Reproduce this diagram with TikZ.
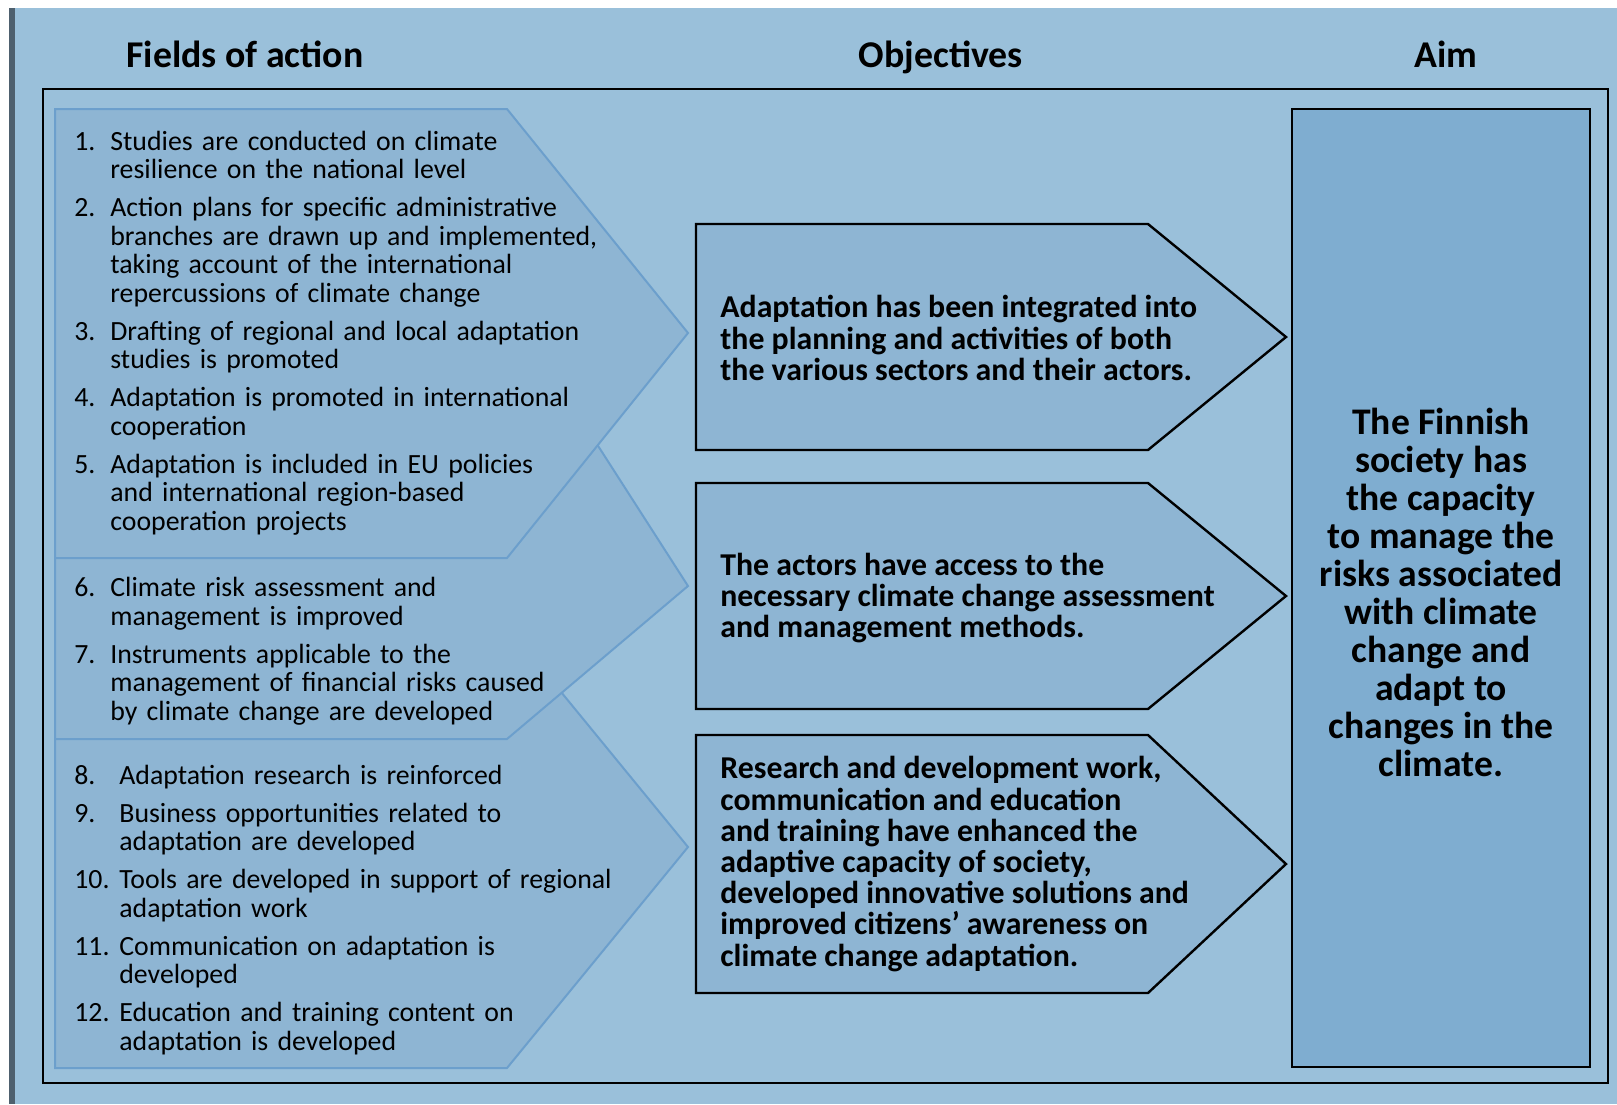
\documentclass[tikz,border=0pt]{standalone}
\usepackage{fontspec}
\setmainfont{Carlito}

\definecolor{bgblue}{RGB}{154,192,218}
\definecolor{chevfill}{RGB}{142,181,211}
\definecolor{chevedge}{RGB}{108,159,204}
\definecolor{aimfill}{RGB}{127,173,208}
\definecolor{barcol}{RGB}{78,96,110}

% numbered line with hanging indent: [indent]{number}{text}
\newcommand{\fitem}[3][18pt]{\hangindent=#1\hangafter=1\makebox[#1][l]{#2}#3\par}

\begin{document}
\begin{tikzpicture}[
    x=0.5pt, y=-0.5pt,                      % 1 unit = 1 px, y runs downwards
    fieldbox/.style={fill=chevfill, draw=chevedge, line width=1pt, line join=miter},
    objbox/.style={fill=chevfill, draw=black, line width=1.2pt, line join=miter},
    aimbox/.style={fill=aimfill, draw=black, line width=1.1pt},
    head/.style={anchor=base, font=\fontsize{18.9}{19}\selectfont\bfseries},
    fieldtxt/.style={anchor=west, inner sep=0pt, text width=300pt,
      font=\fontsize{13.9}{14.25}\selectfont},
    objtxt/.style={anchor=west, inner sep=0pt, align=left,
      font=\fontsize{15.9}{15.6}\selectfont\bfseries},
    aimtxt/.style={align=center, inner sep=0pt,
      font=\fontsize{18.8}{19}\selectfont\bfseries},
  ]

  % ---------- page background ----------
  \useasboundingbox (0,0) rectangle (1617,1104);
  \fill[white] (0,0) rectangle (1617,1104);
  \fill[bgblue] (15,8) rectangle (1617,1104);
  \fill[barcol] (9,8) rectangle (15,1104);

  % ---------- column headings ----------
  \node[head] (hfields) at (245,67) {Fields of action};
  \node[head] (hobj) at (941,67) {Objectives};
  \node[head] (haim) at (1446,67) {Aim};

  % ---------- outer frame ----------
  \draw[line width=1pt] (43,89) rectangle (1608,1083);

  % ---------- fields of action (bottom one first, top one drawn last) ----------
  \foreach \t/\tip/\b in {626/847/1068, 304/586/739, 109/333/558}
  \draw[fieldbox] (55,\t) -- (507,\t) -- (688,\tip) -- (507,\b) -- (55,\b) -- cycle;

  \node[fieldtxt] (fielda) at (74,333) {\setlength{\parskip}{4.75pt}%
    \fitem{1.}{Studies are conducted on climate\newline resilience on the national level}
    \fitem{2.}{Action plans for specific administrative\newline branches are drawn up and implemented,\newline taking account of the international\newline repercussions of climate change}
    \fitem{3.}{Drafting of regional and local adaptation\newline studies is promoted}
    \fitem{4.}{Adaptation is promoted in international\newline cooperation}
    \fitem{5.}{Adaptation is included in EU policies\newline and international region-based\newline cooperation projects}};

  \node[fieldtxt] (fieldb) at (74,651) {\setlength{\parskip}{4.75pt}%
    \fitem{6.}{Climate risk assessment and\newline management is improved}
    \fitem{7.}{Instruments applicable to the\newline management of financial risks caused\newline by climate change are developed}};

  \node[fieldtxt] (fieldc) at (74,910) {\setlength{\parskip}{4.75pt}%
    \fitem[22.5pt]{8.}{Adaptation research is reinforced}
    \fitem[22.5pt]{9.}{Business opportunities related to\newline adaptation are developed}
    \fitem[22.5pt]{10.}{Tools are developed in support of regional\newline adaptation work}
    \fitem[22.5pt]{11.}{Communication on adaptation is\newline developed}
    \fitem[22.5pt]{12.}{Education and training content on\newline adaptation is developed}};

  % ---------- objectives ----------
  \foreach \t/\b in {224/450, 483/709, 735/993}
  \draw[objbox] (696,\t) -- (1148,\t) -- (1286,{(\t+\b)/2}) -- (1148,\b) -- (696,\b) -- cycle;

  \node[objtxt] (obja) at (720,338) {Adaptation has been integrated into\\
    the planning and activities of both\\ the various sectors and their actors.};
  \node[objtxt] (objb) at (720,598) {The actors have access to the\\
    necessary climate change assessment\\ and management methods.};
  \node[objtxt] (objc) at (720,864) {Research and development work,\\
    communication and education\\ and training have enhanced the\\
    adaptive capacity of society,\\ developed innovative solutions and\\
    improved citizens’ awareness on\\ climate change adaptation.};

  % ---------- aim ----------
  \draw[aimbox] (1292,109) rectangle (1590,1067);
  \node[aimtxt] (aim) at (1441,592) {The Finnish\\ society has\\ the capacity\\
    to manage the\\ risks associated\\ with climate\\ change and\\ adapt to\\
    changes in the\\ climate.};

\end{tikzpicture}
\end{document}
